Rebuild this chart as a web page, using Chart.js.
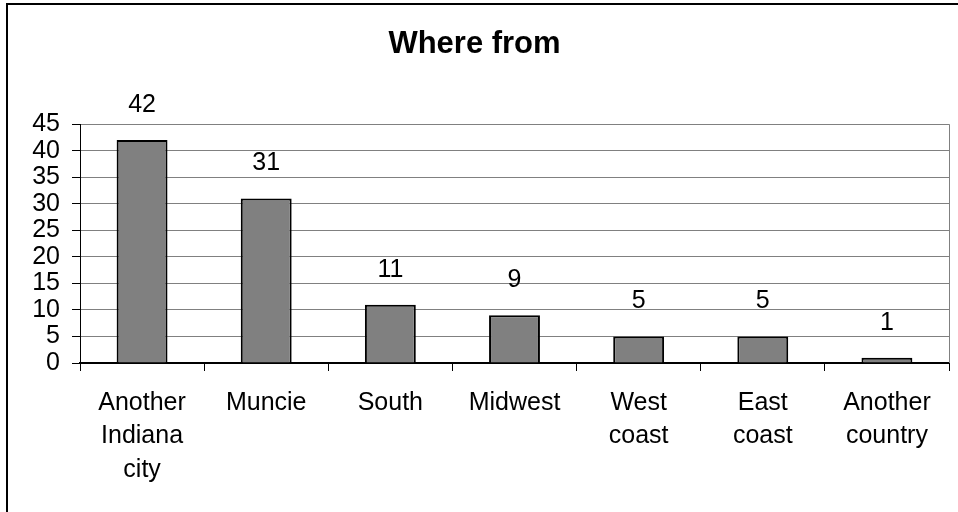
<!DOCTYPE html>
<html>
<head>
<meta charset="utf-8">
<script src="https://cdn.jsdelivr.net/npm/chart.js@4"></script>
<style>
  html, body { margin: 0; padding: 0; background: #fff; }
  #wrap { width: 958px; height: 512px; }
</style>
</head>
<body>
<div id="wrap"><canvas id="chart1" width="958" height="512"></canvas></div>
<script>
const categories = [['Another', 'Indiana', 'city'], 'Muncie', 'South', 'Midwest', ['West', 'coast'], ['East', 'coast'], ['Another', 'country']];
const counts = [42, 31, 11, 9, 5, 5, 1];
const yTicks = [0, 5, 10, 15, 20, 25, 30, 35, 40, 45];

const FONT = "'Liberation Sans', Arial, sans-serif";

// outer frame (only top and left edges are visible in the original)
const frame = {
  id: 'frame',
  beforeDraw(chart) {
    const c = chart.ctx;
    c.save();
    c.fillStyle = '#fff';
    c.fillRect(0, 0, chart.width, chart.height);
    c.strokeStyle = '#000';
    c.lineWidth = 2;
    c.beginPath();
    c.moveTo(7, 512);
    c.lineTo(7, 4);
    c.lineTo(958, 4);
    c.stroke();
    c.restore();
  }
};

// gray right edge of the plot area
const plotEdge = {
  id: 'plotEdge',
  beforeDatasetsDraw(chart) {
    const a = chart.chartArea, c = chart.ctx;
    c.save();
    c.strokeStyle = '#808080';
    c.lineWidth = 1;
    c.beginPath();
    c.moveTo(Math.round(a.right) + 0.5, a.top);
    c.lineTo(Math.round(a.right) + 0.5, a.bottom);
    c.stroke();
    c.restore();
  }
};

// value labels above bars
const valueLabels = {
  id: 'valueLabels',
  afterDatasetsDraw(chart) {
    const c = chart.ctx;
    const meta = chart.getDatasetMeta(0);
    c.save();
    c.font = '25px ' + FONT;
    c.fillStyle = '#000';
    c.textAlign = 'center';
    c.textBaseline = 'alphabetic';
    meta.data.forEach((bar, i) => {
      c.fillText(String(counts[i]), bar.x, bar.y - 28);
    });
    c.restore();
  }
};

const ctx = document.getElementById('chart1').getContext('2d');
new Chart(ctx, {
  type: 'bar',
  data: {
    labels: categories,
    datasets: [{
      data: counts,
      backgroundColor: '#808080',
      borderColor: '#000',
      borderWidth: 2,
      categoryPercentage: 1,
      barPercentage: 0.41
    }]
  },
  options: {
    responsive: false,
    animation: false,
    layout: { padding: { left: 0, right: 9, top: 0, bottom: 0 } },
    plugins: {
      legend: { display: false },
      tooltip: { enabled: false },
      title: {
        display: true,
        text: 'Where from',
        color: '#000',
        font: { family: FONT, size: 31, weight: 'bold' },
        padding: { top: 26, bottom: 61 }
      }
    },
    scales: {
      x: {
        grid: {
          offset: true,
          drawOnChartArea: false,
          drawTicks: true,
          tickLength: 8,
          tickColor: '#000'
        },
        border: { color: '#000', width: 2 },
        ticks: {
          color: '#000',
          padding: 15,
          maxRotation: 0,
          autoSkip: false,
          font: { family: FONT, size: 25, lineHeight: 1.34 }
        },
        afterFit(scale) { scale.height = 149; }
      },
      y: {
        min: 0,
        max: 45,
        afterBuildTicks(scale) { scale.ticks = yTicks.map(v => ({ value: v })); },
        grid: {
          color: '#808080',
          tickColor: '#000',
          tickLength: 8,
          lineWidth: 1
        },
        border: { color: '#000', width: 1 },
        ticks: {
          color: '#000',
          padding: 12,
          autoSkip: false,
          font: { family: FONT, size: 25 }
        },
        afterFit(scale) { scale.width = 80; }
      }
    }
  },
  plugins: [frame, plotEdge, valueLabels]
});
</script>
</body>
</html>
